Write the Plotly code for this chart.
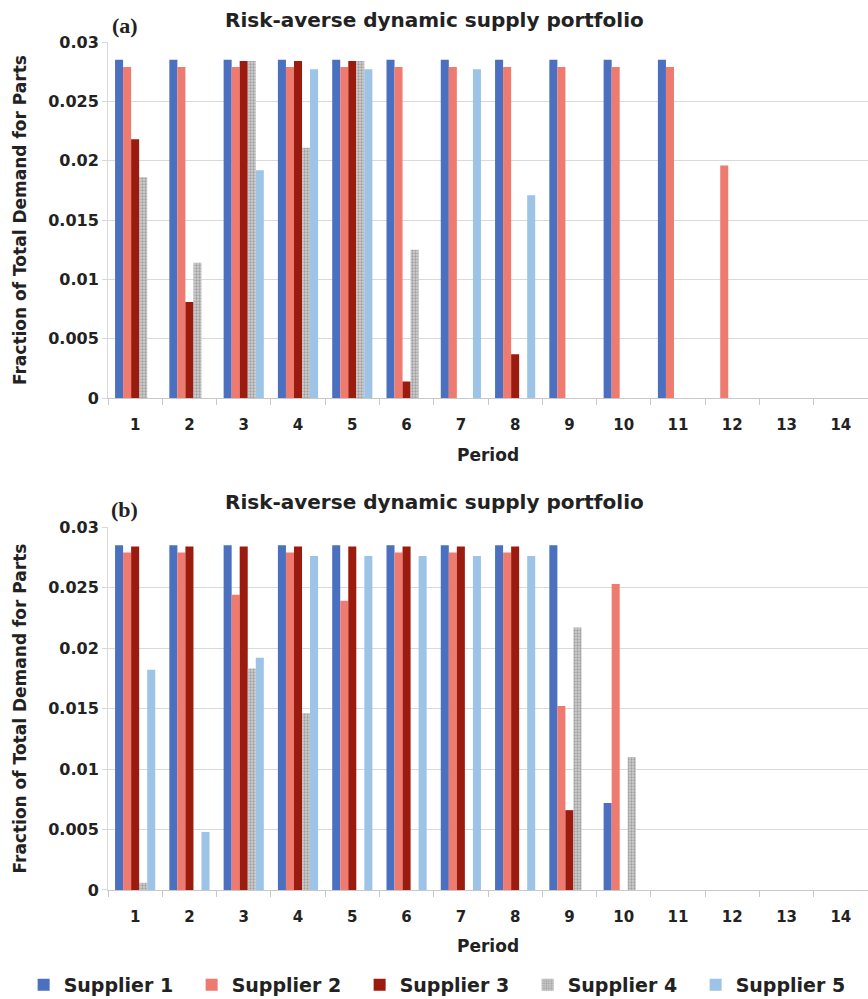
import plotly.graph_objects as go
from plotly.subplots import make_subplots

periods = [str(i) for i in range(1, 15)]
suppliers = ["Supplier 1", "Supplier 2", "Supplier 3", "Supplier 4", "Supplier 5"]

# Panel (a)
a_s1 = [0.0285]*11 + [0, 0, 0]
a_s2 = [0.0279]*11 + [0.0196, 0, 0]
a_s3 = [0.0218, 0.0081, 0.0284, 0.0284, 0.0284, 0.0014, 0, 0.0037, 0, 0, 0, 0, 0, 0]
a_s4 = [0.0186, 0.0114, 0.0284, 0.0211, 0.0284, 0.0125, 0, 0, 0, 0, 0, 0, 0, 0]
a_s5 = [0, 0, 0.0192, 0.0277, 0.0277, 0, 0.0277, 0.0171, 0, 0, 0, 0, 0, 0]

# Panel (b)
b_s1 = [0.0285]*9 + [0.0072, 0, 0, 0, 0]
b_s2 = [0.0279, 0.0279, 0.0244, 0.0279, 0.0239, 0.0279, 0.0279, 0.0279, 0.0152, 0.0253, 0, 0, 0, 0]
b_s3 = [0.0284]*8 + [0.0066, 0, 0, 0, 0, 0]
b_s4 = [0.0006, 0, 0.0183, 0.0146, 0, 0, 0, 0, 0.0217, 0.0110, 0, 0, 0, 0]
b_s5 = [0.0182, 0.0048, 0.0192, 0.0276, 0.0276, 0.0276, 0.0276, 0.0276, 0, 0, 0, 0, 0, 0]

ytick_vals = [0, 0.005, 0.01, 0.015, 0.02, 0.025, 0.03]
ytick_text = ["0", "0.005", "0.01", "0.015", "0.02", "0.025", "0.03"]

colors = ["#4a70bf", "#ee7a70", "#9b1b0e", "#b8b8b8", "#9dc3e6"]

fig = make_subplots(rows=2, cols=1, vertical_spacing=0.05)

def add_panel(series, row, show):
    for i, (name, vals) in enumerate(zip(suppliers, series)):
        marker = dict(color=colors[i], line=dict(width=0))
        if i == 3:
            marker = dict(color="#c4c4c4", line=dict(width=0),
                          pattern=dict(shape=".", fgcolor="#6e6e6e", bgcolor="#cfcfcf",
                                       size=3, solidity=0.45, fillmode="overlay"))
        fig.add_trace(go.Bar(x=periods, y=vals, name=name, marker=marker,
                             showlegend=show, legendgroup=name), row=row, col=1)

add_panel([a_s1, a_s2, a_s3, a_s4, a_s5], 1, True)
add_panel([b_s1, b_s2, b_s3, b_s4, b_s5], 2, False)

FONT = "DejaVu Sans"
axis_common_y = dict(range=[0, 0.03], tickvals=ytick_vals, ticktext=ytick_text,
                     showgrid=True, gridcolor="#d9d9d9", gridwidth=1,
                     showline=True, linecolor="#d9d9d9", linewidth=1,
                     ticks="outside", ticklen=5, tickcolor="#d9d9d9",
                     tickfont=dict(family=FONT, size=16, color="#222222", weight="bold"),
                     zeroline=False, fixedrange=True)
axis_common_x = dict(type="category", tickson="boundaries", ticks="outside", ticklen=6,
                     tickcolor="#c8c8c8", showline=True, linecolor="#c8c8c8", linewidth=1,
                     showgrid=False, ticklabelstandoff=13,
                     tickfont=dict(family=FONT, size=15, color="#222222", weight="bold"),
                     fixedrange=True)

fig.update_yaxes(**axis_common_y)
fig.update_xaxes(**axis_common_x)
fig.update_layout(
    yaxis=dict(domain=[0.580, 1.0]),
    yaxis2=dict(domain=[0.0, 0.428]),
)

ann = []
title_font = dict(family=FONT, size=20, color="#222222")
ann.append(dict(text="<b>Risk-averse dynamic supply portfolio</b>", xref="paper", yref="paper",
                x=0.43, y=1.026, xanchor="center", yanchor="middle", showarrow=False, font=title_font))
ann.append(dict(text="<b>Risk-averse dynamic supply portfolio</b>", xref="paper", yref="paper",
                x=0.43, y=0.4575, xanchor="center", yanchor="middle", showarrow=False, font=title_font))
lab_font = dict(family="Liberation Serif", size=22, color="#222222")
ann.append(dict(text="<b>(a)</b>", xref="paper", yref="paper", x=0.022, y=1.019,
                xanchor="center", yanchor="middle", showarrow=False, font=lab_font))
ann.append(dict(text="<b>(b)</b>", xref="paper", yref="paper", x=0.022, y=0.449,
                xanchor="center", yanchor="middle", showarrow=False, font=lab_font))
yt_font = dict(family=FONT, size=17, color="#222222")
for yr in ["y domain", "y2 domain"]:
    ann.append(dict(text="<b>Fraction of Total Demand for Parts</b>", xref="paper", yref=yr,
                    x=-0.1158, y=0.5, xanchor="center", yanchor="middle", textangle=-90,
                    showarrow=False, font=yt_font))
pf = dict(family=FONT, size=17, color="#222222")
ann.append(dict(text="<b>Period</b>", xref="paper", yref="paper", x=0.5, y=0.5135,
                xanchor="center", yanchor="middle", showarrow=False, font=pf))
ann.append(dict(text="<b>Period</b>", xref="paper", yref="paper", x=0.5, y=-0.0655,
                xanchor="center", yanchor="middle", showarrow=False, font=pf))

fig.update_layout(
    width=868, height=999,
    margin=dict(l=108, r=0, t=42, b=109, autoexpand=False),
    paper_bgcolor="white", plot_bgcolor="white",
    barmode="group", bargap=0.26, bargroupgap=0,
    annotations=ann,
    legend=dict(orientation="h", x=-0.111, y=-0.112, xanchor="left", yanchor="middle",
                font=dict(family=FONT, size=19, color="#222222", weight="bold"),
                entrywidth=123, entrywidthmode="pixels", traceorder="normal"),
    font=dict(family=FONT),
)

fig.write_html("out.html")
